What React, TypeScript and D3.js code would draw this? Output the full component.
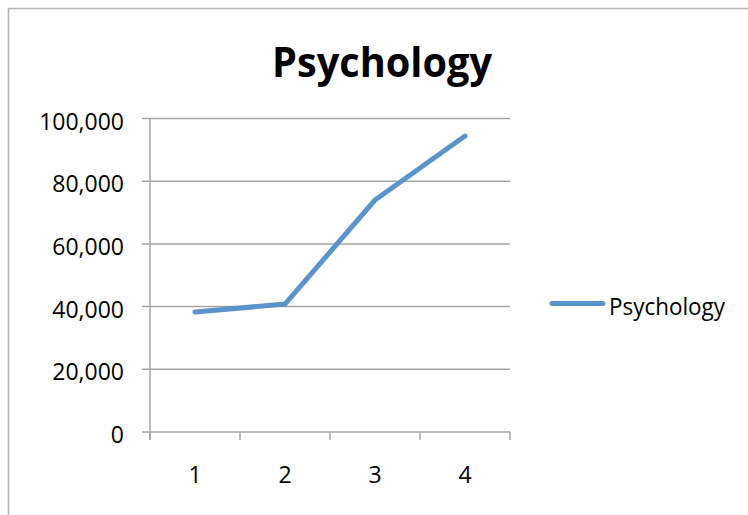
import React from "react";
import * as d3 from "d3";

const categories = ["1", "2", "3", "4"];
const values = [38300, 40800, 74000, 94400];
const yTicks = [0, 20000, 40000, 60000, 80000, 100000];
const seriesName = "Psychology";
const title = "Psychology";

export default function App() {
  const W = 748, H = 515;
  const left = 150, right = 510, top = 118.5, bottom = 432;
  const x = d3.scaleBand<string>().domain(categories).range([left, right]);
  const y = d3.scaleLinear().domain([0, 100000]).range([bottom, top]);
  const fmt = d3.format(",");
  const line = d3
    .line<number>()
    .x((_, i) => (x(categories[i]) as number) + x.bandwidth() / 2)
    .y((d) => y(d));
  const font = "'Open Sans', sans-serif";
  const gridColor = "#a6a6a6";
  const blue = "#5b93cb";
  const tickXs = categories.map((c) => x(c) as number).concat([right]);

  return (
    <svg
      width={W}
      height={H}
      style={{ position: "absolute", left: 0, top: 0, background: "#fff" }}
    >
      <rect x={0} y={0} width={W} height={H} fill="#fff" />
      {/* chart frame */}
      <path d={`M8.5,${H} V8.5 H${W}`} fill="none" stroke="#b3b3b3" strokeWidth={1.5} />
      {/* title */}
      <text
        x={382}
        y={77}
        textAnchor="middle"
        fontFamily={font}
        fontWeight="bold"
        fontSize={41}
        textLength={220}
        lengthAdjust="spacingAndGlyphs"
        fill="#000"
      >
        {title}
      </text>
      {/* gridlines and y ticks */}
      {yTicks.map((t) => (
        <g key={t}>
          <line x1={142} x2={right} y1={y(t)} y2={y(t)} stroke={gridColor} strokeWidth={1.5} />
          <text
            x={124}
            y={y(t) + 11}
            textAnchor="end"
            fontFamily={font}
            fontSize={23}
            fill="#000"
          >
            {fmt(t)}
          </text>
        </g>
      ))}
      {/* y axis */}
      <line x1={left} x2={left} y1={top} y2={bottom + 8} stroke={gridColor} strokeWidth={1.5} />
      {/* x ticks */}
      {tickXs.map((tx, i) => (
        <line key={i} x1={tx} x2={tx} y1={bottom} y2={bottom + 8} stroke={gridColor} strokeWidth={1.5} />
      ))}
      {categories.map((c) => (
        <text
          key={c}
          x={(x(c) as number) + x.bandwidth() / 2}
          y={483}
          textAnchor="middle"
          fontFamily={font}
          fontSize={23}
          fill="#000"
        >
          {c}
        </text>
      ))}
      {/* series */}
      <path
        d={line(values) || ""}
        fill="none"
        stroke={blue}
        strokeWidth={5}
        strokeLinecap="round"
        strokeLinejoin="round"
      />
      {/* legend */}
      <line x1={552} x2={603} y1={303.5} y2={303.5} stroke={blue} strokeWidth={5} strokeLinecap="round" />
      <text
        x={609}
        y={315}
        fontFamily={font}
        fontSize={23}
        textLength={116}
        lengthAdjust="spacingAndGlyphs"
        fill="#000"
      >
        {seriesName}
      </text>
    </svg>
  );
}
